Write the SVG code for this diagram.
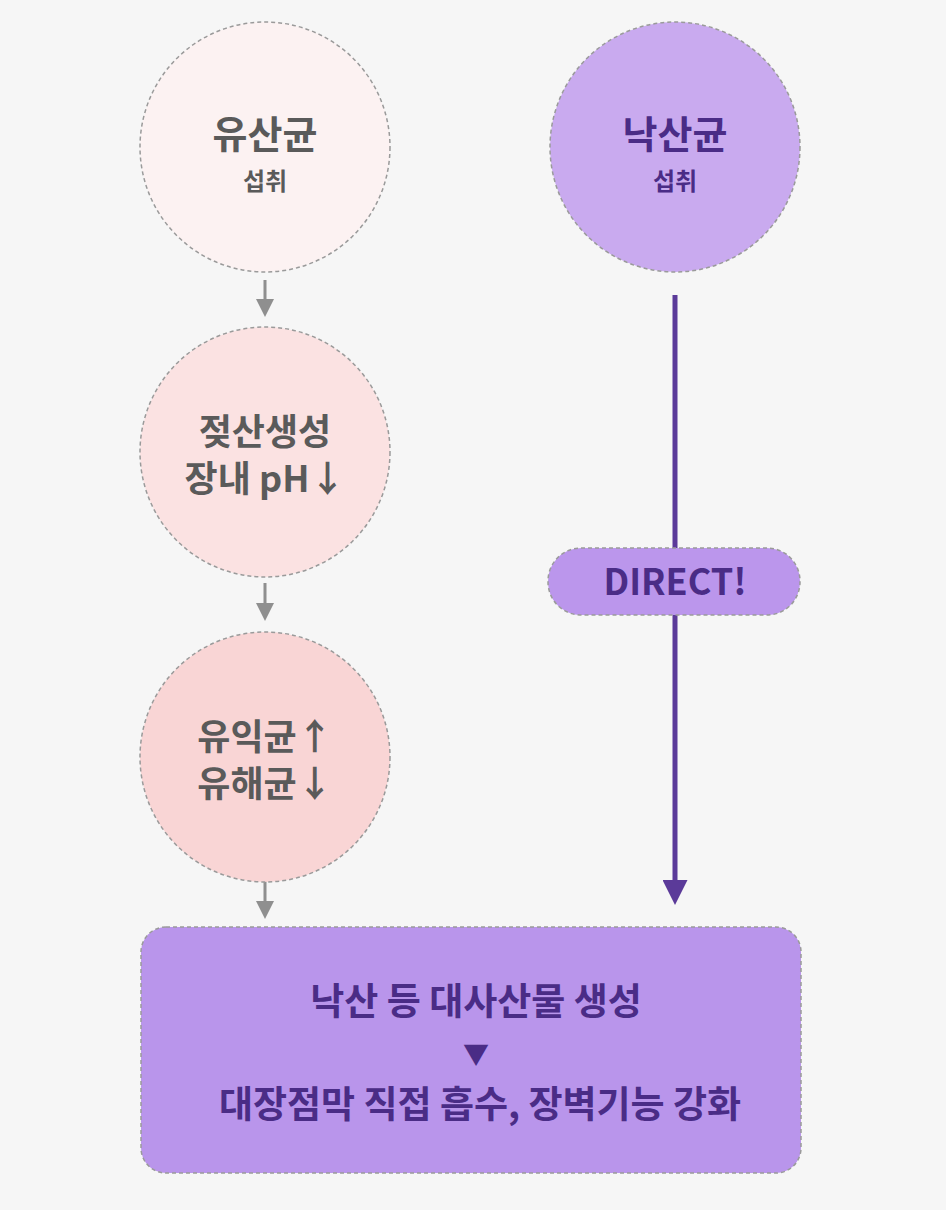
<svg xmlns="http://www.w3.org/2000/svg" width="946" height="1210" viewBox="0 0 946 1210">
<style>
text{font-family:"Noto Sans CJK KR","Noto Sans",sans-serif;font-weight:700;text-anchor:middle}
.c{stroke:#9a9a9a;stroke-width:1.5;stroke-dasharray:4 3}
.g{fill:#5a5a5a}
.p{fill:#4a2c86}
.ga{stroke:#8f8f8f;stroke-width:3;fill:none}
</style>
<defs>
<marker id="ag" markerWidth="6" markerHeight="6" refX="3" refY="3" orient="auto" markerUnits="strokeWidth"><path d="M0,0 L6,3 L0,6z" fill="#8f8f8f"/></marker>
<marker id="ap" markerWidth="5" markerHeight="5" refX="3" refY="2.5" orient="auto" markerUnits="strokeWidth"><path d="M0,0 L5,2.5 L0,5z" fill="#5b3a99"/></marker>
</defs>
<rect width="946" height="1210" fill="#f6f6f6"/>
<g id="connectors">
<line class="ga" x1="265" y1="280" x2="265" y2="308" marker-end="url(#ag)"/>
<line class="ga" x1="265" y1="583" x2="265" y2="612" marker-end="url(#ag)"/>
<line class="ga" x1="265" y1="880" x2="265" y2="910" marker-end="url(#ag)"/>
<line x1="675" y1="295" x2="675" y2="895" stroke="#5b3a99" stroke-width="5" marker-end="url(#ap)"/>
</g>
<g id="n1"><circle class="c" cx="265" cy="147" r="125" fill="#fcf2f2"/>
<text class="g" x="265" y="148" font-size="38">유산균</text><text class="g" x="265" y="190" font-size="24">섭취</text></g>
<g id="n2"><circle class="c" cx="265" cy="452" r="125" fill="#fbe2e2"/>
<text class="g" x="265" y="445" font-size="36">젖산생성</text><text class="g" x="265" y="492" font-size="36">장내 pH↓</text></g>
<g id="n3"><circle class="c" cx="265" cy="757" r="125" fill="#f9d5d5"/>
<text class="g" x="265" y="750" font-size="36">유익균↑</text><text class="g" x="265" y="797" font-size="36">유해균↓</text></g>
<g id="n4"><circle class="c" cx="675" cy="147" r="125" fill="#c9aaef"/>
<text class="p" x="675" y="148" font-size="38">낙산균</text><text class="p" x="675" y="190" font-size="24">섭취</text></g>
<g id="n5"><rect class="c" x="548" y="548" width="252" height="67" rx="33" fill="#bb96ec"/>
<text class="p" x="675" y="595" font-size="36">DIRECT!</text></g>
<g id="n6"><rect class="c" x="141" y="927" width="660" height="246" rx="25" fill="#b995eb"/>
<text class="p" x="476" y="1015" font-size="37">낙산 등 대사산물 생성</text>
<text class="p" x="476" y="1064" font-size="26">▼</text>
<text class="p" x="480" y="1118" font-size="37">대장점막 직접 흡수, 장벽기능 강화</text></g>
</svg>
